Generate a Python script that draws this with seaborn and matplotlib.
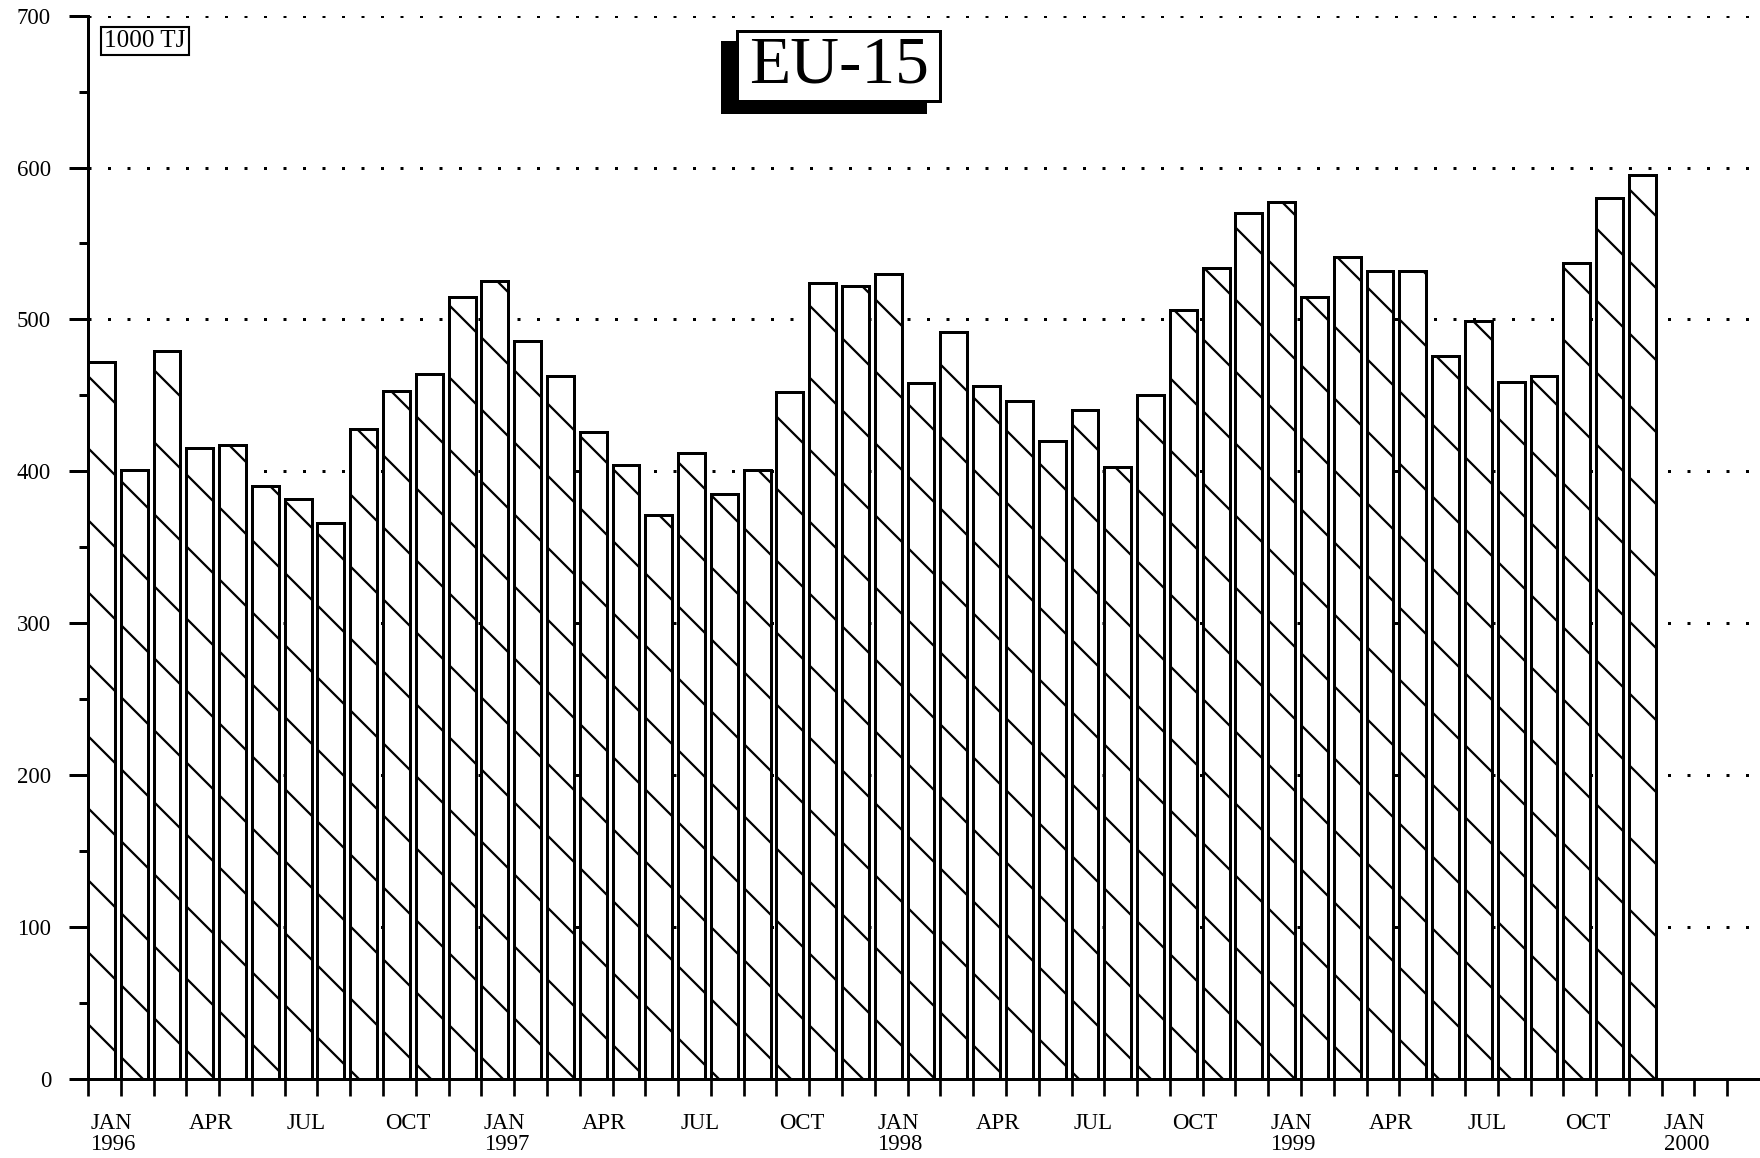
import numpy as np
import pandas as pd
import matplotlib
matplotlib.use('Agg')
import matplotlib.pyplot as plt
from matplotlib.patches import Rectangle
from matplotlib.ticker import MultipleLocator
import seaborn as sns

# monthly values, 1000 TJ, EU-15
vals_1996 = [472, 401, 479, 415, 417, 390, 382, 366, 428, 453, 464, 515]
vals_1997 = [525, 486, 463, 426, 404, 371, 412, 385, 401, 452, 524, 522]
vals_1998 = [530, 458, 492, 456, 446, 420, 440, 403, 450, 506, 534, 570]
vals_1999 = [577, 515, 541, 532, 532, 476, 499, 459, 463, 537, 580, 595]
years = [1996, 1997, 1998, 1999, 2000]
month_names = ['JAN', 'APR', 'JUL', 'OCT']

values = vals_1996 + vals_1997 + vals_1998 + vals_1999
df = pd.DataFrame({'month': np.arange(len(values)), 'value': values})

DPI = 216
W, H = 1760, 1158
BAR_W = 0.82

sns.set_style('ticks')
plt.rcParams['font.family'] = ['Liberation Serif', 'DejaVu Serif']
plt.rcParams['text.color'] = 'black'
plt.rcParams['xtick.color'] = 'black'
plt.rcParams['ytick.color'] = 'black'
plt.rcParams['hatch.linewidth'] = 0.75
plt.rcParams['hatch.color'] = 'black'

fig = plt.figure(figsize=(W / DPI, H / DPI), dpi=DPI)
ax = fig.add_axes([88 / W, 1 - 1078.6 / H, 1 - 88 / W, (1078.6 - 15.7) / H])

# bars sit on the left edge of each month slot
df['pos'] = df['month'] + BAR_W / 2
sns.barplot(data=df, x='pos', y='value', native_scale=True, width=BAR_W,
            color='white', saturation=1, edgecolor='black', linewidth=1.0,
            hatch='\\', errorbar=None, ax=ax, zorder=2)

ax.set_xlim(0, 51)
ax.set_ylim(0, 700)
ax.set_xlabel('')
ax.set_ylabel('')

# y axis
ax.set_yticks(range(0, 701, 100))
ax.yaxis.set_minor_locator(MultipleLocator(50))
ax.tick_params(axis='y', which='major', length=6.3, width=1.0, pad=6,
               labelsize=7.6, colors='black')
ax.tick_params(axis='y', which='minor', length=3, width=1.0)
ax.yaxis.grid(True, linestyle=(0, (1, 5.5)), linewidth=1.0, color='black')
ax.set_axisbelow(True)

# x axis: one tick per month, labels every quarter
ax.set_xticks(range(0, 51))
ax.tick_params(axis='x', which='major', length=5.7, width=0.9, labelbottom=False)
for m in range(0, 49, 3):
    txt = month_names[(m % 12) // 3]
    if m % 12 == 0:
        txt += '\n' + str(years[m // 12])
    ax.text(m + 0.07, -0.032, txt, transform=ax.get_xaxis_transform(),
            ha='left', va='top', fontsize=7.6, linespacing=1.05, color='black')

sns.despine(ax=ax)
for s in ['left', 'bottom']:
    ax.spines[s].set_linewidth(1.0)
    ax.spines[s].set_color('black')

# unit box
fig.text(145 / W, 1 - 41 / H, '1000 TJ', ha='center', va='center', fontsize=8.4,
         color='black',
         bbox=dict(boxstyle='square,pad=0.12', fc='white', ec='black', lw=0.7))

# EU-15 box with shadow
bx, by, bw, bh = 737, 31, 203, 70
fig.patches.append(Rectangle(((bx - 15) / W, 1 - (by + bh + 11) / H), bw / W, bh / H,
                             transform=fig.transFigure, fc='black', ec='black', zorder=5))
fig.patches.append(Rectangle((bx / W, 1 - (by + bh) / H), bw / W, bh / H,
                             transform=fig.transFigure, fc='white', ec='black', lw=1.0, zorder=6))
fig.text((bx + bw / 2) / W, 1 - (by + bh / 2) / H, 'EU-15', ha='center', va='center',
         fontsize=22.5, color='black', zorder=7)

fig.savefig('out.png', dpi=DPI, facecolor='white')
